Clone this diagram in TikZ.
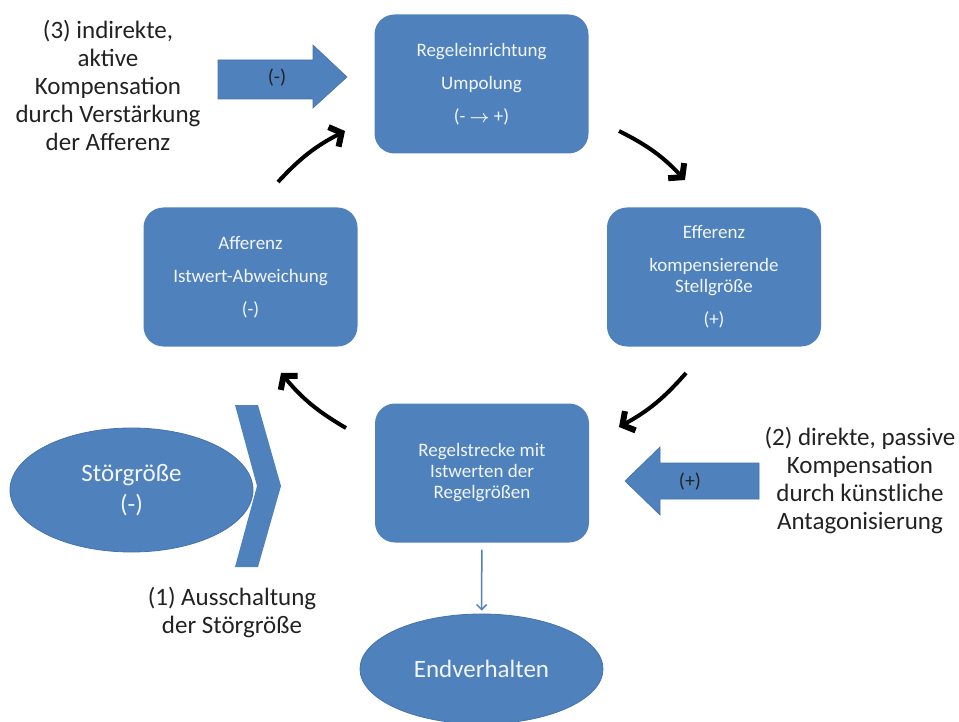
\documentclass[tikz,border=0pt]{standalone}
\usepackage{amsmath}
\usepackage{fontspec}
\setmainfont{Carlito}
\usetikzlibrary{arrows.meta,shapes.geometric}
\definecolor{boxblue}{HTML}{4F81BD}
\definecolor{rimblue}{HTML}{4473AB}
\definecolor{boxtext}{HTML}{F2F6FB}
\definecolor{labeltext}{HTML}{222222}

\begin{document}
\begin{tikzpicture}[x=1pt,y=-1pt,>={Straight Barb[length=9pt,width=22pt,line width=6pt]},
  main node/.style={rectangle,rounded corners=20pt,fill=boxblue,minimum width=214pt,
    minimum height=139pt,inner sep=0pt,text=boxtext,align=center,
    font=\fontsize{19}{21}\selectfont},
  oval node/.style={ellipse,fill=boxblue,draw=rimblue,line width=0.8pt,inner sep=0pt,
    text=boxtext,align=center,font=\fontsize{25}{31}\selectfont},
  side text/.style={align=center,text=labeltext,font=\fontsize{25}{28}\selectfont},
  loop arrow/.style={->,line width=4pt,black,bend left=10},
  block arrow/.style={fill=boxblue,draw=rimblue,line width=0.6pt}]

  \useasboundingbox (0,0) rectangle (959,722);

  % the four boxes of the loop
  \node[main node] (0) at (481.5,84) {Regeleinrichtung\\[12pt]Umpolung\\[12pt](- $\boldsymbol{\rightarrow}$ +)};
  \node[main node] (1) at (714,277) {Efferenz\\[12pt]kompensierende\\Stellgröße\\[12pt](+)};
  \node[main node] (2) at (482,473) {Regelstrecke mit\\Istwerten der\\Regelgrößen};
  \node[main node] (3) at (250.5,277) {Afferenz\\[12pt]Istwert-Abweichung\\[12pt](-)};

  \node[oval node,minimum width=243pt,minimum height=124pt] (4) at (131.5,490) {Störgröße\\(-)};
  \node[oval node,minimum width=243pt,minimum height=110pt] (5) at (481.5,669) {Endverhalten};

  % texts of the three interventions
  \node[side text] (t1) at (232,613) {(1) Ausschaltung\\der Störgröße};
  \node[side text] (t2) at (860,481) {(2) direkte, passive\\Kompensation\\durch künstliche\\Antagonisierung};
  \node[side text] (t3) at (108,85) {(3) indirekte,\\aktive\\Kompensation\\durch Verstärkung\\der Afferenz};

  % chevron in front of the disturbance
  \fill[boxblue] (235,405) -- (258,405) -- (281,486) -- (258,567) -- (235,567) -- (257,486) -- cycle;

  % block arrows
  \draw[block arrow] (218,60) -- (313,60) -- (313,45) -- (347,77) -- (313,108) -- (313,99) -- (218,99) -- cycle;
  \node[side text,font=\fontsize{20}{22}\selectfont] (m3) at (277,78) {(-)};
  \draw[block arrow] (759,463) -- (660,463) -- (660,447) -- (625,481) -- (660,515) -- (660,499) -- (759,499) -- cycle;
  \node[side text,font=\fontsize{20}{22}\selectfont] (m2) at (690,482) {(+)};

  % the loop
  \coordinate (a0) at (278,182);
  \coordinate (b0) at (345,131);
  \coordinate (a1) at (619,131);
  \coordinate (b1) at (685,180);
  \coordinate (a2) at (686,373);
  \coordinate (b2) at (619,427);
  \coordinate (a3) at (346,428);
  \coordinate (b3) at (281,373);

  \path[every edge/.append style={loop arrow}]
    (a0) edge (b0)
    (a1) edge (b1)
    (a2) edge (b2)
    (a3) edge (b3);

  \draw[-{Straight Barb[length=5pt,width=10pt]},boxblue,line width=1.5pt,shorten <=7pt,shorten >=3pt] (2) -- (5);
\end{tikzpicture}
\end{document}
